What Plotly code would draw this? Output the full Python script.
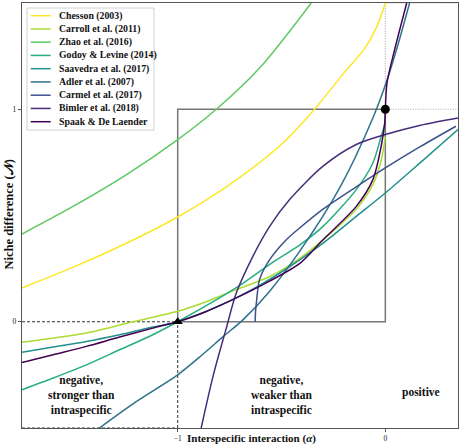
import plotly.graph_objects as go

# ---------------- data ----------------
names = ["Chesson (2003)", "Carroll et al. (2011)", "Zhao et al. (2016)",
         "Godoy & Levine (2014)", "Saavedra et al. (2017)", "Adler et al. (2007)",
         "Carmel et al. (2017)", "Bimler et al. (2018)", "Spaak & De Laender"]

chesson_x = [-1.75, -1.5, -1.25, -1.0, -0.75, -0.5, -0.341, -0.2, -0.1, -0.04, 0.0]
chesson_y = [0.159, 0.258, 0.368, 0.493, 0.645, 0.835, 1.0, 1.17, 1.285, 1.39, 1.5]

carroll_x = [-1.75, -1.44, -1.216, -1.0, -0.879, -0.718, -0.557, -0.41, -0.3, -0.14, -0.06, -0.02, 0.0]
carroll_y = [-0.096, -0.053, 0.0, 0.049, 0.088, 0.151, 0.213, 0.30, 0.385, 0.53, 0.645, 0.76, 0.87]

zhao_x = [-1.75, -1.5, -1.25, -1.0, -0.814, -0.6, -0.357]
zhao_y = [0.413, 0.545, 0.69, 0.857, 1.0, 1.2, 1.5]

godoy_x = [-1.75, -1.6, -1.44, -1.28, -1.12, -1.0, -0.72, -0.56, -0.41, -0.3, -0.14, -0.06, -0.02, -0.005]
godoy_y = [-0.32, -0.265, -0.203, -0.132, -0.061, 0.0, 0.159, 0.268, 0.363, 0.449, 0.622, 0.747, 0.873, 0.92]

saavedra_x = [-1.75, -1.6, -1.44, -1.28, -1.12, -1.0, -0.8, -0.6, -0.46, -0.3, -0.14, 0.0, 0.17, 0.35]
saavedra_y = [-0.144, -0.119, -0.093, -0.061, -0.025, 0.0, 0.075, 0.175, 0.26, 0.37, 0.496, 0.606, 0.75, 0.905]

adler_x = [-1.377, -1.2, -1.0, -0.88, -0.78, -0.686, -0.557, -0.413, -0.22, -0.06, 0.005, 0.053, 0.117]
adler_y = [-0.5, -0.376, -0.25, -0.154, -0.069, 0.009, 0.144, 0.331, 0.63, 0.959, 1.128, 1.277, 1.5]

carmel_x = [-0.627, -0.625, -0.62, -0.606, -0.557, -0.477, -0.413, -0.3, -0.14, 0.0, 0.17, 0.34]
carmel_y = [0.0, 0.05, 0.1, 0.198, 0.292, 0.386, 0.441, 0.53, 0.635, 0.724, 0.825, 0.92]

bimler_x = [-0.887, -0.83, -0.766, -0.718, -0.638, -0.557, -0.461, -0.3, -0.14, 0.0, 0.17, 0.35]
bimler_y = [-0.5, -0.257, -0.03, 0.135, 0.308, 0.449, 0.575, 0.732, 0.834, 0.881, 0.925, 0.959]

spaak_x = [-1.75, -1.6, -1.44, -1.28, -1.12, -1.0, -0.88, -0.72, -0.56, -0.41, -0.3, -0.14,
           -0.06, -0.02, -0.003, 0.0, 0.008, 0.045, 0.103]
spaak_y = [-0.192, -0.155, -0.116, -0.072, -0.03, 0.0, 0.041, 0.111, 0.19, 0.276, 0.386, 0.543,
           0.669, 0.826, 0.936, 1.0, 1.124, 1.281, 1.5]

series_x = [chesson_x, carroll_x, zhao_x, godoy_x, saavedra_x, adler_x, carmel_x, bimler_x, spaak_x]
series_y = [chesson_y, carroll_y, zhao_y, godoy_y, saavedra_y, adler_y, carmel_y, bimler_y, spaak_y]

# reference points: equal interaction (triangle) and no interaction (circle)
triangle_x, triangle_y = [-1], [0]
circle_x, circle_y = [0], [1]

x_ticks = [-1, 0]
x_ticktext = ["\u22121", "0"]
y_ticks = [0, 1]
y_ticktext = ["0", "1"]

x_title = "Interspecific interaction (<i>\u03b1</i>)"
y_title = "Niche difference (\U0001d4a9)"

region_labels = ["negative,<br>stronger than<br>intraspecific",
                 "negative,<br>weaker than<br>intraspecific",
                 "positive"]
region_x = [-1.465, -0.5, 0.172]
region_y = [-0.347, -0.347, -0.334]

# ---------------- styles ----------------
colors = ["#fde725", "#aadc32", "#5ec962", "#27ad81", "#21918c",
          "#2c728e", "#3b528b", "#472d7b", "#440154"]
FONT = "Liberation Serif, Times New Roman, serif"
XR = [-1.75, 0.35]
YR = [-0.5, 1.5]

fig = go.Figure()
for xs, ys, nm, c in zip(series_x, series_y, names, colors):
    fig.add_trace(go.Scatter(x=xs, y=ys, mode="lines", name=nm,
                             line=dict(color=c, width=1.5, shape="spline", smoothing=0.8),
                             showlegend=False))

fig.add_trace(go.Scatter(x=triangle_x, y=triangle_y, mode="markers", showlegend=False,
                         marker=dict(symbol="triangle-up", size=9, color="black")))
fig.add_trace(go.Scatter(x=circle_x, y=circle_y, mode="markers", showlegend=False,
                         marker=dict(symbol="circle", size=9, color="black")))

shapes = []
shapes.append(dict(type="rect", xref="x", yref="y", x0=triangle_x[0], y0=triangle_y[0],
                   x1=circle_x[0], y1=circle_y[0], line=dict(color="#777", width=1.5), layer="below"))
for (a, b, c_, d) in [(XR[0], 0, -1, 0), (-1, YR[0], -1, 0), (XR[0], YR[0], -1, YR[0])]:
    shapes.append(dict(type="line", xref="x", yref="y", x0=a, y0=b, x1=c_, y1=d,
                       line=dict(color="#333", width=1, dash="3px,2px"), layer="below"))
for (a, b, c_, d) in [(0, 1, 0, YR[1]), (0, 1, XR[1], 1), (0, YR[1], XR[1], YR[1])]:
    shapes.append(dict(type="line", xref="x", yref="y", x0=a, y0=b, x1=c_, y1=d,
                       line=dict(color="#aaa", width=1.2, dash="1px,1.5px"), layer="below"))

# ---------- compact legend drawn in the top-left corner ----------
L, R, T, B = 22, 4, 3, 19
W, H = 462, 447
PW, PH = W - L - R, H - T - B

def px2paper(px, py):
    return (px - L) / PW, (H - B - py) / PH

bx0, by0 = px2paper(27, 130)
bx1, by1 = px2paper(154, 8)
shapes.append(dict(type="rect", xref="paper", yref="paper", x0=bx0, y0=by0, x1=bx1, y1=by1,
                   line=dict(color="#d0d0d0", width=1), fillcolor="rgba(255,255,255,0.85)",
                   layer="above"))
annotations = []
for i, (nm, c) in enumerate(zip(names, colors)):
    py = 15.7 + i * 13.25
    lx0, ly = px2paper(30.7, py)
    lx1, _ = px2paper(50.7, py)
    tx, _ = px2paper(57.0, py)
    shapes.append(dict(type="line", xref="paper", yref="paper", x0=lx0, y0=ly, x1=lx1, y1=ly,
                       line=dict(color=c, width=1.5), layer="above"))
    annotations.append(dict(xref="paper", yref="paper", x=tx, y=ly, text="<b>%s</b>" % nm,
                            showarrow=False, xanchor="left", yanchor="middle",
                            font=dict(family=FONT, size=9.8, color="#111")))

for t, xx, yy in zip(region_labels, region_x, region_y):
    annotations.append(dict(x=xx, y=yy, xref="x", yref="y", text="<b>%s</b>" % t,
                            showarrow=False, xanchor="center", yanchor="middle",
                            font=dict(family=FONT, size=11.5, color="#111")))

# axis titles (x title sits at the very bottom edge, clear of the tick labels)
tx_x, tx_y = px2paper(252, 446.5)
annotations.append(dict(xref="paper", yref="paper", x=tx_x, y=tx_y, text="<b>%s</b>" % x_title,
                        showarrow=False, xanchor="center", yanchor="bottom",
                        font=dict(family=FONT, size=11, color="#111")))
ty_x, ty_y = px2paper(8.5, 215)
annotations.append(dict(xref="paper", yref="paper", x=ty_x, y=ty_y, text="<b>%s</b>" % y_title,
                        showarrow=False, xanchor="center", yanchor="middle", textangle=-90,
                        font=dict(family=FONT, size=12.5, color="#111")))

fig.update_layout(
    width=W, height=H, margin=dict(l=L, r=R, t=T, b=B),
    plot_bgcolor="white", paper_bgcolor="white",
    shapes=shapes, annotations=annotations, showlegend=False,
    font=dict(family=FONT, color="#111"),
    xaxis=dict(range=XR, tickvals=x_ticks, ticktext=x_ticktext, ticks="outside", ticklen=3,
               tickcolor="#555", tickfont=dict(size=7.5, family=FONT),
               showline=True, mirror=True, linecolor="#555", linewidth=1.3,
               showgrid=False, zeroline=False, automargin=False),
    yaxis=dict(range=YR, tickvals=y_ticks, ticktext=y_ticktext, ticks="outside", ticklen=3,
               tickcolor="#555", tickfont=dict(size=7.5, family=FONT),
               showline=True, mirror=True, linecolor="#555", linewidth=1.3,
               showgrid=False, zeroline=False, automargin=False),
)

fig.write_html("out.html")
